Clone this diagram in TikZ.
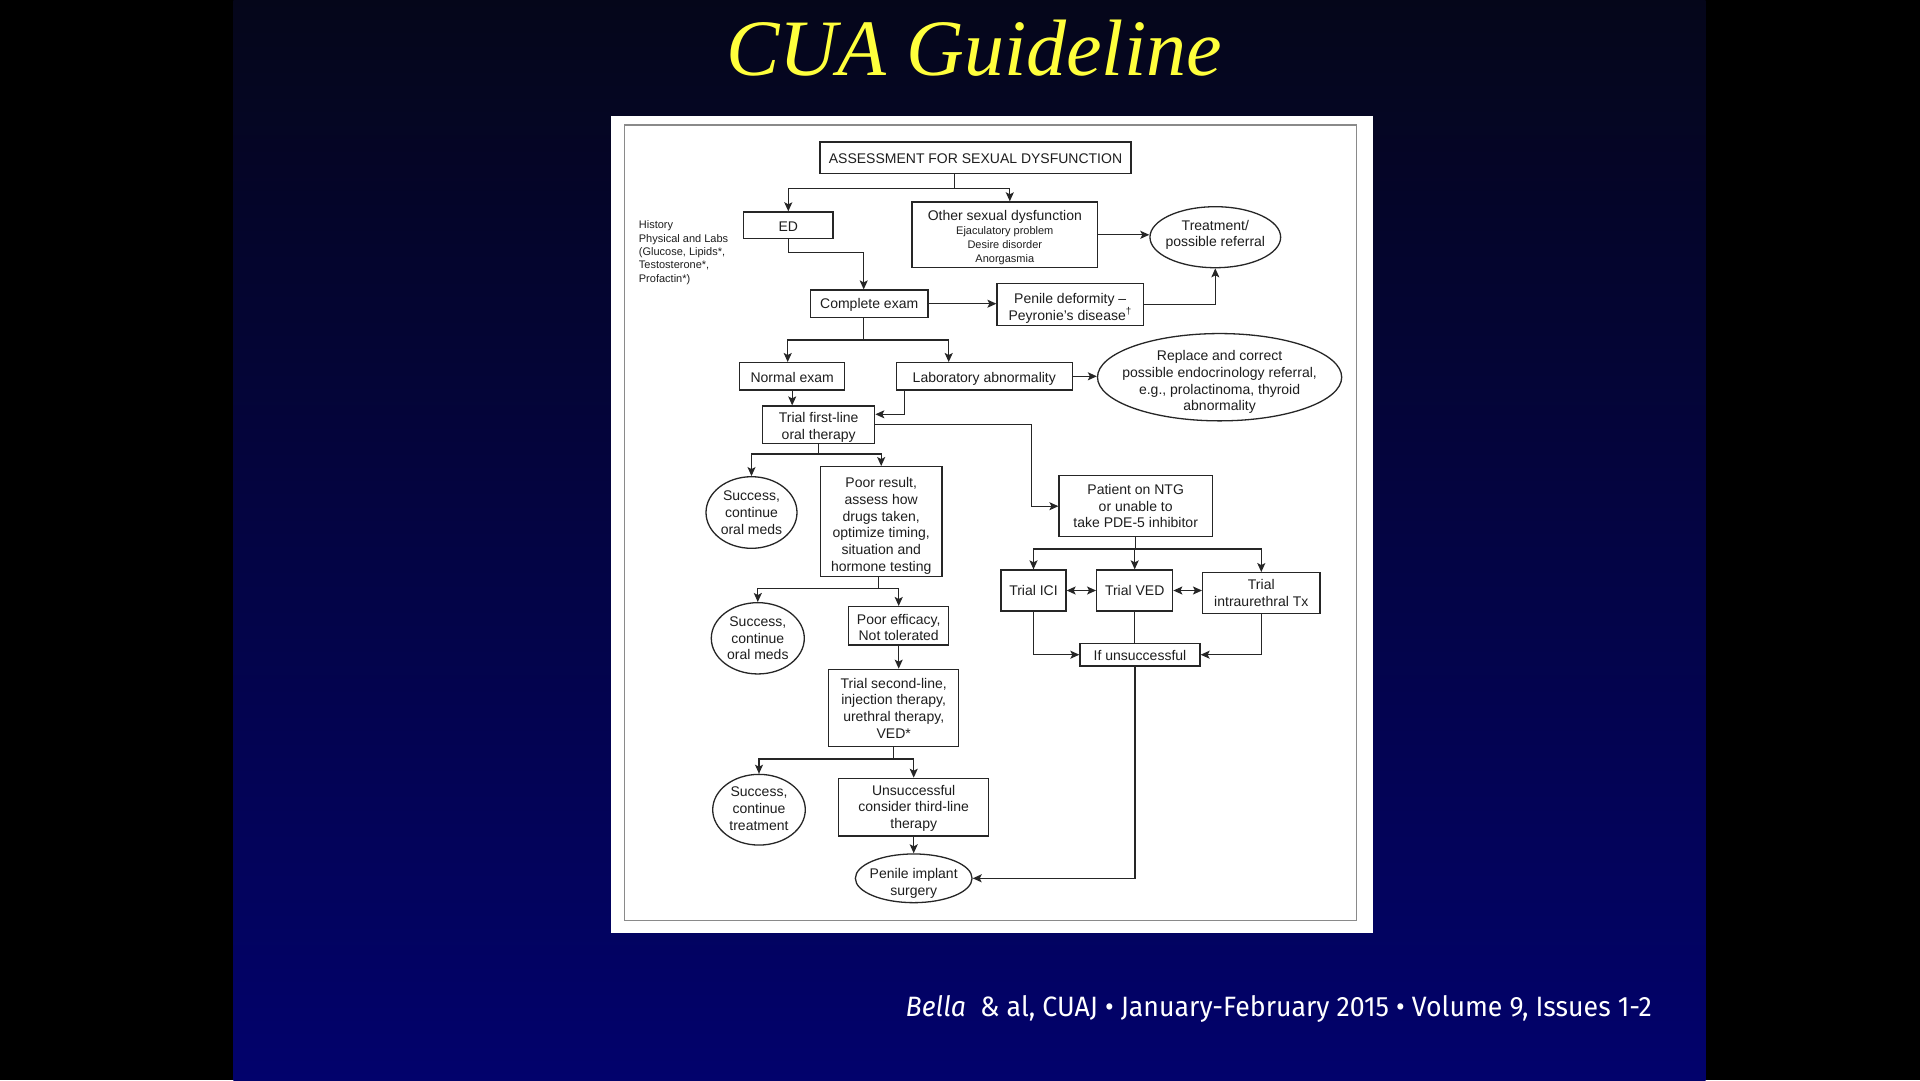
\documentclass[tikz,border=0pt]{standalone}
\usepackage{fontspec}
\setmainfont{Liberation Sans}
\newfontfamily\titlefont{Liberation Serif}
\newfontfamily\footfont{Fira Sans}
\usetikzlibrary{shapes.geometric,arrows.meta,calc}
\definecolor{linec}{HTML}{262626}
\definecolor{textc}{HTML}{1E1E1E}
\definecolor{bgtop}{HTML}{05061A}
\definecolor{bgmid}{HTML}{0A0D48}
\definecolor{bgbot}{HTML}{02026C}
\definecolor{titley}{HTML}{FFFF3C}
\definecolor{framec}{HTML}{8A8A8A}
\newcommand{\bx}{\fontsize{14}{16.7}\selectfont}
\newcommand{\sm}{\fontsize{11}{13.4}\selectfont}
% first-line strut (pushes text down) and last-line strut (pushes text up)
\newcommand{\tophi}[1]{\rule{0pt}{#1pt}}
\newcommand{\lowdp}[1]{\rule[-#1pt]{0pt}{#1pt}}
\tikzset{
  base/.style={font=\bx, text=textc, align=center, inner sep=0pt},
  box/.style={base, draw=linec, line width=1.3pt, rectangle},
  elli/.style={base, draw=linec, line width=1.3pt, ellipse, inner sep=-40pt},
  conn/.style={draw=linec, line width=1.3pt},
  arr/.style={conn, -{Stealth[length=9pt,width=8pt,inset=2pt]}},
  darr/.style={conn, {Stealth[length=9pt,width=8pt,inset=2pt]}-{Stealth[length=9pt,width=8pt,inset=2pt]}}
}
\begin{document}
\begin{tikzpicture}[x=1pt,y=-1pt]
\useasboundingbox (0,0) rectangle (1920,1080);
% background
\fill[black] (0,0) rectangle (1920,1080);
\shade[top color=bgtop, middle color=bgmid, bottom color=bgbot] (233.3,0) rectangle (1705.7,1080);
% paper panel
\fill[white] (611,116) rectangle (1373,933);
\draw[framec, line width=1.5pt] (624.5,125) rectangle (1356.6,920.5);
% title and footer
\node[anchor=base, text=titley, inner sep=0pt] (title) at (974,75.5) {\titlefont\itshape\fontsize{80}{90}\selectfont CUA Guideline};
\node[anchor=base west, text=white, inner sep=0pt] (foot) at (905.5,1016.7) {\resizebox{746pt}{21pt}{\footfont\fontsize{28}{30}\selectfont \textit{Bella}\ \ \& al, CUAJ • January-February 2015 • Volume 9, Issues 1-2}};
% nodes
\node[box, minimum width=311, minimum height=31.3] (assess) at (975.5,157.7) {\tophi{12.4}ASSESSMENT FOR SEXUAL DYSFUNCTION};
\node[box, minimum width=89.3, minimum height=26.7] (ed) at (788.3,225.3) {\tophi{12.4}ED};
\node[box, minimum width=185.7, minimum height=65.7] (other) at (1004.8,234.8) {\tophi{14.8}Other sexual dysfunction\\[-2pt] \sm Ejaculatory problem\\[-3pt] \sm Desire disorder\\[-3pt] \sm Anorgasmia};
\node[base, align=left, anchor=north west, font=\sm] (hist) at (638.7,220.5) {History\\ Physical and Labs\\ (Glucose, Lipids*,\\ Testosterone*,\\ Profactin*)};
\node[elli, minimum width=130.7, minimum height=61] (treat) at (1215.3,237.2) {Treatment/\\ possible referral\lowdp{7.7}};
\node[box, minimum width=117.7, minimum height=27.3] (complete) at (869.2,303.7) {\tophi{12.4}Complete exam};
\node[box, minimum width=146.3, minimum height=41.6] (penile) at (1070.2,304.5) {\tophi{17.4}Penile deformity –\\ Peyronie's disease\textsuperscript{†}};
\node[box, minimum width=105, minimum height=27.3] (normal) at (792.2,376.3) {\tophi{12.4}Normal exam};
\node[box, minimum width=176, minimum height=27.3] (lab) at (984.3,376.3) {\tophi{14.8}Laboratory abnormality};
\node[elli, minimum width=244.2, minimum height=87.3] (replace) at (1219.6,377.2) {\tophi{19.8}Replace and correct\\ possible endocrinology referral,\\ e.g., prolactinoma, thyroid\\ abnormality};
\node[box, minimum width=112, minimum height=37.3] (first) at (818.7,424.7) {\tophi{14.8}Trial first-line\\ oral therapy};
\node[elli, minimum width=91, minimum height=71.6] (succ1) at (751.5,512.5) {Success,\\ continue\\ oral meds};
\node[box, minimum width=121.7, minimum height=110] (poor) at (881.2,521.7) {\tophi{18.6}Poor result,\\ assess how\\ drugs taken,\\ optimize timing,\\ situation and\\ hormone testing};
\node[box, minimum width=153.3, minimum height=61] (ntg) at (1135.7,506.2) {Patient on NTG\\ or unable to\\ take PDE-5 inhibitor};
\node[box, minimum width=65, minimum height=41] (ici) at (1033.5,590.5) {Trial ICI};
\node[box, minimum width=76, minimum height=41] (ved) at (1134.7,590.5) {Trial VED};
\node[box, minimum width=117.3, minimum height=40.6] (intra) at (1261.3,593) {Trial\\ intraurethral Tx};
\node[box, minimum width=120, minimum height=22.7] (ifun) at (1140,654.7) {\tophi{12.4}If unsuccessful};
\node[elli, minimum width=93, minimum height=71.3] (succ2) at (757.8,638.3) {Success,\\ continue\\ oral meds};
\node[box, minimum width=100, minimum height=38.3] (effic) at (898.7,625.8) {\tophi{13.6}Poor efficacy,\\ Not tolerated};
\node[box, minimum width=130, minimum height=77.4] (second) at (893.7,708) {Trial second-line,\\ injection therapy,\\ urethral therapy,\\ VED*};
\node[elli, minimum width=92.6, minimum height=70.7] (succ3) at (759,809.7) {Success,\\ continue\\ treatment\lowdp{2.4}};
\node[box, minimum width=150, minimum height=57.7] (unsucc) at (913.7,807.2) {\tophi{12.4}Unsuccessful\\ consider third-line\\ therapy};
\node[elli, minimum width=116.7, minimum height=48.7] (implant) at (913.7,878.3) {\tophi{19.8}Penile implant\\ surgery};
% connectors
\draw[conn] ($(assess.south)+(-20.8,0)$) -- ++(0,14.4) coordinate (s1);
\draw[arr] (s1) -| (ed.north);
\draw[arr] (s1) -| ($(other.north)+(5,0)$);
\draw[arr] (ed.south) -- ++(0,13.3) -| ($(complete.north)+(-5.5,0)$);
\draw[arr] (complete.east) -- (complete.east -| penile.west);
\draw[arr] (penile.east) -| (treat.south);
\draw[arr] (other.east) -- (other.east -| treat.west);
\draw[conn] ($(complete.south)+(-5.5,0)$) -- ++(0,22) coordinate (s2);
\draw[arr] (s2) -| ($(normal.north)+(-4.5,0)$);
\draw[arr] (s2) -| ($(lab.north)+(-35.6,0)$);
\draw[arr] (lab.east) -- (lab.east -| replace.west);
\draw[arr] (normal.south) -- (normal.south |- first.north);
\draw[arr] ($(lab.south)+(-79.6,0)$) |- ($(first.east)+(0,-10.4)$);
\draw[arr] (first.east) -- ++(156,0) |- (ntg.west);
\draw[conn] (first.south) -- ++(0,10) coordinate (s3);
\draw[arr] (s3) -| (succ1.north);
\draw[arr] (s3) -| (poor.north);
\draw[conn] ($(poor.south)+(-2.5,0)$) -- ++(0,11) coordinate (s4);
\draw[arr] (s4) -| (succ2.north);
\draw[arr] (s4) -| (effic.north);
\draw[arr] (effic.south) -- (effic.south |- second.north);
\draw[conn] (second.south) -- ++(0,11.6) coordinate (s5);
\draw[arr] (s5) -| (succ3.north);
\draw[arr] (s5) -| (unsucc.north);
\draw[arr] (unsucc.south) -- (implant.north);
\draw[conn] (ntg.south) -- ++(0,11.6) coordinate (s6);
\draw[arr] (s6) -| (ici.north);
\draw[arr] (s6) -| (ved.north);
\draw[arr] (s6) -| (intra.north);
\draw[darr] (ici.east) -- (ici.east -| ved.west);
\draw[darr] (ved.east) -- (ved.east -| intra.west);
\draw[arr] (ici.south) |- (ifun.west);
\draw[conn] (ved.south) -- (ved.south |- ifun.north);
\draw[arr] (intra.south) |- (ifun.east);
\draw[arr] ($(ifun.south)+(-5,0)$) |- (implant.east);
\end{tikzpicture}
\end{document}
